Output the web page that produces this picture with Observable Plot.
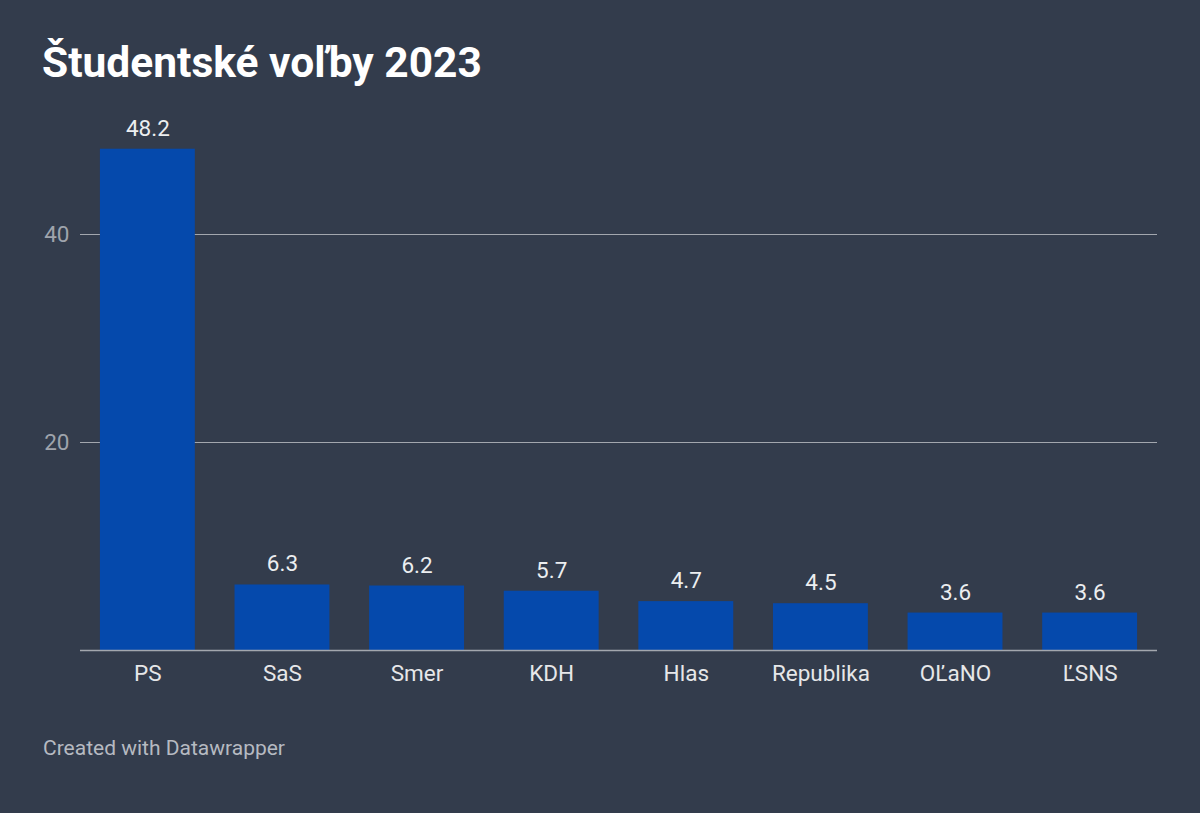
<!DOCTYPE html>
<html>
<head>
<meta charset="utf-8">
<script src="https://cdn.jsdelivr.net/npm/d3@7"></script>
<script src="https://cdn.jsdelivr.net/npm/@observablehq/plot@0.6"></script>
<style>
  html, body { margin: 0; padding: 0; background: #333c4c; width: 1200px; height: 813px; overflow: hidden; }
  body { position: relative; font-family: Roboto, "Noto Sans", sans-serif; }
  #title { position: absolute; left: 42px; top: 42px; font-size: 42.5px; font-weight: 700; color: #ffffff; line-height: 1; white-space: nowrap; }
  #chart { position: absolute; left: 0; top: 100px; }
  #caption { position: absolute; left: 43px; top: 738px; font-size: 21px; color: #b6bac1; line-height: 1; white-space: nowrap; }
</style>
</head>
<body>
<div id="title">Študentské voľby 2023</div>
<div id="chart"></div>
<div id="caption">Created with Datawrapper</div>
<script>
const parties = ["PS", "SaS", "Smer", "KDH", "Hlas", "Republika", "OĽaNO", "ĽSNS"];
const values = [48.2, 6.3, 6.2, 5.7, 4.7, 4.5, 3.6, 3.6];
const yTicks = [20, 40];

const data = parties.map((p, i) => ({party: p, value: values[i]}));

const chart = Plot.plot({
  width: 1200,
  height: 610,
  marginLeft: 80,
  marginRight: 43,
  marginTop: 30,
  marginBottom: 60,
  style: {background: "transparent", fontFamily: "Roboto, sans-serif", overflow: "visible"},
  x: {domain: parties, paddingInner: 0.295, paddingOuter: 0.148, round: false, label: null},
  y: {domain: [0, 50], label: null},
  marks: [
    Plot.gridY(yTicks, {stroke: "#a3a7ae", strokeOpacity: 1, strokeWidth: 1.2}),
    Plot.axisY(yTicks, {tickSize: 0, tickPadding: 11, fontSize: 22.5, fill: "#9fa4ac", label: null}),
    Plot.barY(data, {x: "party", y: "value", fill: "#0549ac"}),
    Plot.ruleY([0], {stroke: "#a3a7ae", strokeWidth: 1.5}),
    Plot.axisX({tickSize: 0, tickPadding: 15, fontSize: 22.5, fill: "#e6e7e9", label: null}),
    Plot.text(data, {x: "party", y: "value", text: d => d.value.toFixed(1), dy: -13.5, lineAnchor: "bottom", fontSize: 22.5, fill: "#eceef0"})
  ]
});
document.getElementById("chart").appendChild(chart);
</script>
</body>
</html>
